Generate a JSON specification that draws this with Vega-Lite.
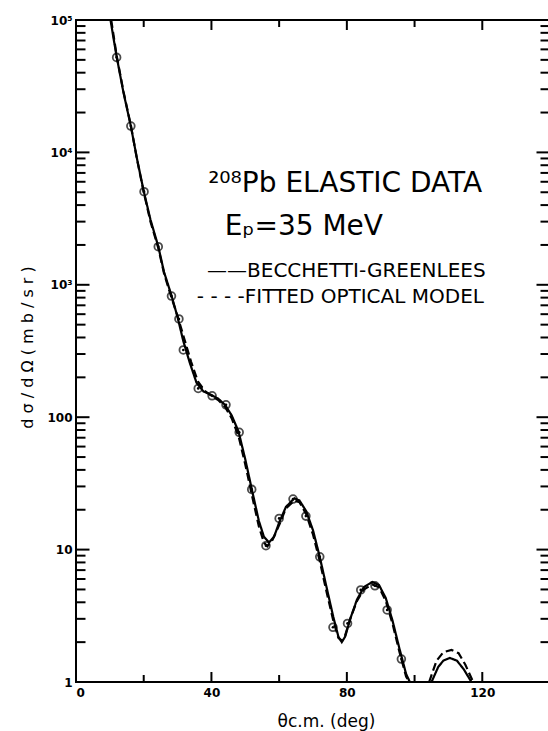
{
  "$schema": "https://vega.github.io/schema/vega-lite/v6.json",
  "autosize": "none",
  "padding": {"left": 76, "top": 20, "right": 0, "bottom": 49},
  "width": 474,
  "height": 662,
  "background": "white",
  "datasets": {
    "curves": [
      {"model": "BECCHETTI-GREENLEES", "seg": 1, "theta": 10.2, "xs": 100000},
      {"model": "BECCHETTI-GREENLEES", "seg": 1, "theta": 11, "xs": 75000},
      {"model": "BECCHETTI-GREENLEES", "seg": 1, "theta": 12, "xs": 53000},
      {"model": "BECCHETTI-GREENLEES", "seg": 1, "theta": 14, "xs": 28500},
      {"model": "BECCHETTI-GREENLEES", "seg": 1, "theta": 16.2, "xs": 15800},
      {"model": "BECCHETTI-GREENLEES", "seg": 1, "theta": 18, "xs": 9000},
      {"model": "BECCHETTI-GREENLEES", "seg": 1, "theta": 20, "xs": 5100},
      {"model": "BECCHETTI-GREENLEES", "seg": 1, "theta": 22, "xs": 3100},
      {"model": "BECCHETTI-GREENLEES", "seg": 1, "theta": 24.3, "xs": 1950},
      {"model": "BECCHETTI-GREENLEES", "seg": 1, "theta": 26, "xs": 1250},
      {"model": "BECCHETTI-GREENLEES", "seg": 1, "theta": 28.2, "xs": 830},
      {"model": "BECCHETTI-GREENLEES", "seg": 1, "theta": 30, "xs": 570},
      {"model": "BECCHETTI-GREENLEES", "seg": 1, "theta": 31.7, "xs": 375},
      {"model": "BECCHETTI-GREENLEES", "seg": 1, "theta": 33.6, "xs": 258},
      {"model": "BECCHETTI-GREENLEES", "seg": 1, "theta": 35.6, "xs": 182},
      {"model": "BECCHETTI-GREENLEES", "seg": 1, "theta": 37.6, "xs": 157},
      {"model": "BECCHETTI-GREENLEES", "seg": 1, "theta": 40, "xs": 147},
      {"model": "BECCHETTI-GREENLEES", "seg": 1, "theta": 42, "xs": 138},
      {"model": "BECCHETTI-GREENLEES", "seg": 1, "theta": 44, "xs": 124},
      {"model": "BECCHETTI-GREENLEES", "seg": 1, "theta": 46, "xs": 103},
      {"model": "BECCHETTI-GREENLEES", "seg": 1, "theta": 48, "xs": 78},
      {"model": "BECCHETTI-GREENLEES", "seg": 1, "theta": 50, "xs": 48},
      {"model": "BECCHETTI-GREENLEES", "seg": 1, "theta": 52, "xs": 28},
      {"model": "BECCHETTI-GREENLEES", "seg": 1, "theta": 54, "xs": 16.5},
      {"model": "BECCHETTI-GREENLEES", "seg": 1, "theta": 55.5, "xs": 12.5},
      {"model": "BECCHETTI-GREENLEES", "seg": 1, "theta": 57, "xs": 11.3},
      {"model": "BECCHETTI-GREENLEES", "seg": 1, "theta": 58.5, "xs": 12.5},
      {"model": "BECCHETTI-GREENLEES", "seg": 1, "theta": 60, "xs": 16},
      {"model": "BECCHETTI-GREENLEES", "seg": 1, "theta": 62, "xs": 21},
      {"model": "BECCHETTI-GREENLEES", "seg": 1, "theta": 64.5, "xs": 24.4},
      {"model": "BECCHETTI-GREENLEES", "seg": 1, "theta": 66, "xs": 23.5},
      {"model": "BECCHETTI-GREENLEES", "seg": 1, "theta": 68, "xs": 19.5},
      {"model": "BECCHETTI-GREENLEES", "seg": 1, "theta": 70, "xs": 14},
      {"model": "BECCHETTI-GREENLEES", "seg": 1, "theta": 72, "xs": 8.8},
      {"model": "BECCHETTI-GREENLEES", "seg": 1, "theta": 74, "xs": 5.2},
      {"model": "BECCHETTI-GREENLEES", "seg": 1, "theta": 76, "xs": 3.1},
      {"model": "BECCHETTI-GREENLEES", "seg": 1, "theta": 77.5, "xs": 2.2},
      {"model": "BECCHETTI-GREENLEES", "seg": 1, "theta": 78.5, "xs": 2.0},
      {"model": "BECCHETTI-GREENLEES", "seg": 1, "theta": 79.5, "xs": 2.2},
      {"model": "BECCHETTI-GREENLEES", "seg": 1, "theta": 81, "xs": 3.0},
      {"model": "BECCHETTI-GREENLEES", "seg": 1, "theta": 83, "xs": 4.2},
      {"model": "BECCHETTI-GREENLEES", "seg": 1, "theta": 85, "xs": 5.2},
      {"model": "BECCHETTI-GREENLEES", "seg": 1, "theta": 87.5, "xs": 5.7},
      {"model": "BECCHETTI-GREENLEES", "seg": 1, "theta": 89.5, "xs": 5.4},
      {"model": "BECCHETTI-GREENLEES", "seg": 1, "theta": 91.5, "xs": 4.3},
      {"model": "BECCHETTI-GREENLEES", "seg": 1, "theta": 93.5, "xs": 2.9},
      {"model": "BECCHETTI-GREENLEES", "seg": 1, "theta": 95.5, "xs": 1.8},
      {"model": "BECCHETTI-GREENLEES", "seg": 1, "theta": 97.5, "xs": 1.15},
      {"model": "BECCHETTI-GREENLEES", "seg": 1, "theta": 98.6, "xs": 1.0},
      {"model": "BECCHETTI-GREENLEES", "seg": 2, "theta": 105, "xs": 1.0},
      {"model": "BECCHETTI-GREENLEES", "seg": 2, "theta": 107, "xs": 1.3},
      {"model": "BECCHETTI-GREENLEES", "seg": 2, "theta": 108.5, "xs": 1.45},
      {"model": "BECCHETTI-GREENLEES", "seg": 2, "theta": 110.4, "xs": 1.52},
      {"model": "BECCHETTI-GREENLEES", "seg": 2, "theta": 112.5, "xs": 1.45},
      {"model": "BECCHETTI-GREENLEES", "seg": 2, "theta": 114.5, "xs": 1.25},
      {"model": "BECCHETTI-GREENLEES", "seg": 2, "theta": 116.8, "xs": 1.0},
      {"model": "FITTED OPTICAL MODEL", "seg": 1, "theta": 10.4, "xs": 100000},
      {"model": "FITTED OPTICAL MODEL", "seg": 1, "theta": 12, "xs": 54000},
      {"model": "FITTED OPTICAL MODEL", "seg": 1, "theta": 14, "xs": 29000},
      {"model": "FITTED OPTICAL MODEL", "seg": 1, "theta": 16.2, "xs": 16000},
      {"model": "FITTED OPTICAL MODEL", "seg": 1, "theta": 18, "xs": 8900},
      {"model": "FITTED OPTICAL MODEL", "seg": 1, "theta": 20, "xs": 5000},
      {"model": "FITTED OPTICAL MODEL", "seg": 1, "theta": 22, "xs": 3000},
      {"model": "FITTED OPTICAL MODEL", "seg": 1, "theta": 24.3, "xs": 1900},
      {"model": "FITTED OPTICAL MODEL", "seg": 1, "theta": 26, "xs": 1220},
      {"model": "FITTED OPTICAL MODEL", "seg": 1, "theta": 28.2, "xs": 800},
      {"model": "FITTED OPTICAL MODEL", "seg": 1, "theta": 30, "xs": 580},
      {"model": "FITTED OPTICAL MODEL", "seg": 1, "theta": 32, "xs": 390},
      {"model": "FITTED OPTICAL MODEL", "seg": 1, "theta": 34, "xs": 262},
      {"model": "FITTED OPTICAL MODEL", "seg": 1, "theta": 36, "xs": 186},
      {"model": "FITTED OPTICAL MODEL", "seg": 1, "theta": 38, "xs": 158},
      {"model": "FITTED OPTICAL MODEL", "seg": 1, "theta": 40, "xs": 145},
      {"model": "FITTED OPTICAL MODEL", "seg": 1, "theta": 42, "xs": 135},
      {"model": "FITTED OPTICAL MODEL", "seg": 1, "theta": 44, "xs": 120},
      {"model": "FITTED OPTICAL MODEL", "seg": 1, "theta": 46, "xs": 98},
      {"model": "FITTED OPTICAL MODEL", "seg": 1, "theta": 48, "xs": 72},
      {"model": "FITTED OPTICAL MODEL", "seg": 1, "theta": 50, "xs": 44},
      {"model": "FITTED OPTICAL MODEL", "seg": 1, "theta": 52, "xs": 25.5},
      {"model": "FITTED OPTICAL MODEL", "seg": 1, "theta": 54, "xs": 15},
      {"model": "FITTED OPTICAL MODEL", "seg": 1, "theta": 55.5, "xs": 11.3},
      {"model": "FITTED OPTICAL MODEL", "seg": 1, "theta": 56.5, "xs": 10.6},
      {"model": "FITTED OPTICAL MODEL", "seg": 1, "theta": 58, "xs": 11.8},
      {"model": "FITTED OPTICAL MODEL", "seg": 1, "theta": 60, "xs": 15.3},
      {"model": "FITTED OPTICAL MODEL", "seg": 1, "theta": 62, "xs": 20.5},
      {"model": "FITTED OPTICAL MODEL", "seg": 1, "theta": 64.5, "xs": 23.5},
      {"model": "FITTED OPTICAL MODEL", "seg": 1, "theta": 66, "xs": 22.8},
      {"model": "FITTED OPTICAL MODEL", "seg": 1, "theta": 68, "xs": 18.5},
      {"model": "FITTED OPTICAL MODEL", "seg": 1, "theta": 70, "xs": 13},
      {"model": "FITTED OPTICAL MODEL", "seg": 1, "theta": 72, "xs": 8.2},
      {"model": "FITTED OPTICAL MODEL", "seg": 1, "theta": 74, "xs": 4.8},
      {"model": "FITTED OPTICAL MODEL", "seg": 1, "theta": 76, "xs": 2.9},
      {"model": "FITTED OPTICAL MODEL", "seg": 1, "theta": 77.5, "xs": 2.15},
      {"model": "FITTED OPTICAL MODEL", "seg": 1, "theta": 78.5, "xs": 2.05},
      {"model": "FITTED OPTICAL MODEL", "seg": 1, "theta": 79.5, "xs": 2.25},
      {"model": "FITTED OPTICAL MODEL", "seg": 1, "theta": 81, "xs": 3.0},
      {"model": "FITTED OPTICAL MODEL", "seg": 1, "theta": 83, "xs": 4.1},
      {"model": "FITTED OPTICAL MODEL", "seg": 1, "theta": 85, "xs": 5.0},
      {"model": "FITTED OPTICAL MODEL", "seg": 1, "theta": 87.5, "xs": 5.45},
      {"model": "FITTED OPTICAL MODEL", "seg": 1, "theta": 89.5, "xs": 5.2},
      {"model": "FITTED OPTICAL MODEL", "seg": 1, "theta": 91.5, "xs": 4.1},
      {"model": "FITTED OPTICAL MODEL", "seg": 1, "theta": 93.5, "xs": 2.75},
      {"model": "FITTED OPTICAL MODEL", "seg": 1, "theta": 95.5, "xs": 1.7},
      {"model": "FITTED OPTICAL MODEL", "seg": 1, "theta": 97.5, "xs": 1.1},
      {"model": "FITTED OPTICAL MODEL", "seg": 1, "theta": 98.4, "xs": 1.0},
      {"model": "FITTED OPTICAL MODEL", "seg": 2, "theta": 104.3, "xs": 1.0},
      {"model": "FITTED OPTICAL MODEL", "seg": 2, "theta": 106.5, "xs": 1.45},
      {"model": "FITTED OPTICAL MODEL", "seg": 2, "theta": 108.5, "xs": 1.68},
      {"model": "FITTED OPTICAL MODEL", "seg": 2, "theta": 110.9, "xs": 1.75},
      {"model": "FITTED OPTICAL MODEL", "seg": 2, "theta": 113, "xs": 1.65},
      {"model": "FITTED OPTICAL MODEL", "seg": 2, "theta": 115, "xs": 1.35},
      {"model": "FITTED OPTICAL MODEL", "seg": 2, "theta": 117.3, "xs": 1.0}
    ],
    "points": [
      {"theta": 12.0, "xs": 52200},
      {"theta": 16.2, "xs": 15800},
      {"theta": 20.1, "xs": 5050},
      {"theta": 24.3, "xs": 1940},
      {"theta": 28.2, "xs": 823},
      {"theta": 30.4, "xs": 552},
      {"theta": 31.7, "xs": 322},
      {"theta": 36.1, "xs": 165},
      {"theta": 40.2, "xs": 145},
      {"theta": 44.3, "xs": 124},
      {"theta": 48.2, "xs": 76.9},
      {"theta": 51.9, "xs": 28.5},
      {"theta": 56.1, "xs": 10.7},
      {"theta": 60.0, "xs": 17.2},
      {"theta": 64.1, "xs": 24.1},
      {"theta": 67.9, "xs": 17.9},
      {"theta": 72.0, "xs": 8.83},
      {"theta": 75.9, "xs": 2.59},
      {"theta": 80.2, "xs": 2.77},
      {"theta": 84.1, "xs": 4.96},
      {"theta": 88.3, "xs": 5.33},
      {"theta": 91.9, "xs": 3.5},
      {"theta": 96.1, "xs": 1.49}
    ],
    "notes": [
      {"note": "²⁰⁸Pb  ELASTIC  DATA", "theta": 79.5, "xs": 5020},
      {"note": "Eₚ=35 MeV", "theta": 67.3, "xs": 2378}
    ],
    "keyrows": [
      {"note": "——BECCHETTI-GREENLEES", "theta": 38.7, "xs": 1146},
      {"note": "- - - -FITTED OPTICAL MODEL", "theta": 35.7, "xs": 729}
    ],
    "ymajor": [{"v": 1}, {"v": 10}, {"v": 100}, {"v": 1000}, {"v": 10000}, {"v": 100000}],
    "yminor": [
      {"v": 2}, {"v": 3}, {"v": 4}, {"v": 5}, {"v": 6}, {"v": 7}, {"v": 8}, {"v": 9},
      {"v": 20}, {"v": 30}, {"v": 40}, {"v": 50}, {"v": 60}, {"v": 70}, {"v": 80}, {"v": 90},
      {"v": 200}, {"v": 300}, {"v": 400}, {"v": 500}, {"v": 600}, {"v": 700}, {"v": 800}, {"v": 900},
      {"v": 2000}, {"v": 3000}, {"v": 4000}, {"v": 5000}, {"v": 6000}, {"v": 7000}, {"v": 8000}, {"v": 9000},
      {"v": 20000}, {"v": 30000}, {"v": 40000}, {"v": 50000}, {"v": 60000}, {"v": 70000}, {"v": 80000}, {"v": 90000}
    ],
    "xmajor": [{"v": 0}, {"v": 40}, {"v": 80}, {"v": 120}],
    "xminor": [{"v": 20}, {"v": 60}, {"v": 100}]
  },
  "layer": [
    {
      "data": {"name": "curves"},
      "transform": [{"filter": "datum.model == 'BECCHETTI-GREENLEES'"}],
      "mark": {"type": "line", "color": "black", "strokeWidth": 2.2},
      "encoding": {
        "x": {"field": "theta", "type": "quantitative",
              "scale": {"domain": [0, 140], "nice": false, "zero": false},
              "axis": {"values": [0, 40, 80, 120], "ticks": false, "labelPadding": 5,
                       "title": "θc.m. (deg)", "titleFontSize": 17, "titleX": 250, "titleY": 44,
                       "titleAnchor": null, "titleAlign": "center", "titleBaseline": "alphabetic"}},
        "y": {"field": "xs", "type": "quantitative",
              "scale": {"type": "log", "domain": [1, 100000], "nice": false},
              "axis": {"values": [1, 10, 100, 1000, 10000, 100000], "ticks": false, "labelPadding": 4,
                       "labelExpr": "datum.value >= 99999 ? '10⁵' : datum.value >= 9999 ? '10⁴' : datum.value >= 999 ? '10³' : datum.value >= 99 ? '100' : datum.value >= 9 ? '10' : '1'",
                       "title": "d σ / d Ω    ( m b / s r )", "titleFontSize": 16, "titleX": -49, "titleY": 327,
                       "titleAngle": -90, "titleAlign": "center", "titleBaseline": "middle"}},
        "detail": {"field": "seg", "type": "nominal"},
        "strokeDash": {"field": "model", "type": "nominal",
                       "scale": {"domain": ["BECCHETTI-GREENLEES", "FITTED OPTICAL MODEL"], "range": [[1, 0], [8, 4]]},
                       "legend": null}
      }
    },
    {
      "data": {"name": "curves"},
      "transform": [{"filter": "datum.model == 'FITTED OPTICAL MODEL'"}],
      "mark": {"type": "line", "color": "black", "strokeWidth": 2.2},
      "encoding": {
        "x": {"field": "theta", "type": "quantitative"},
        "y": {"field": "xs", "type": "quantitative"},
        "detail": {"field": "seg", "type": "nominal"},
        "strokeDash": {"field": "model", "type": "nominal", "legend": null}
      }
    },
    {
      "data": {"name": "points"},
      "mark": {"type": "point", "shape": "circle", "filled": false, "stroke": "black", "strokeWidth": 1.8, "size": 60},
      "encoding": {
        "x": {"field": "theta", "type": "quantitative"},
        "y": {"field": "xs", "type": "quantitative"}
      }
    },
    {
      "data": {"name": "points"},
      "mark": {"type": "circle", "color": "black", "size": 7, "opacity": 1},
      "encoding": {
        "x": {"field": "theta", "type": "quantitative"},
        "y": {"field": "xs", "type": "quantitative"}
      }
    },
    {
      "data": {"name": "notes"},
      "mark": {"type": "text", "font": "DejaVu Sans", "fontSize": 28, "color": "black", "align": "center", "baseline": "alphabetic"},
      "encoding": {
        "x": {"field": "theta", "type": "quantitative"},
        "y": {"field": "xs", "type": "quantitative"},
        "text": {"field": "note", "type": "nominal"}
      }
    },
    {
      "data": {"name": "keyrows"},
      "mark": {"type": "text", "font": "DejaVu Sans", "fontSize": 20, "color": "black", "align": "left", "baseline": "alphabetic"},
      "encoding": {
        "x": {"field": "theta", "type": "quantitative"},
        "y": {"field": "xs", "type": "quantitative"},
        "text": {"field": "note", "type": "nominal"}
      }
    },
    {
      "data": {"name": "ymajor"},
      "mark": {"type": "tick", "orient": "horizontal", "color": "#000000", "opacity": 1, "thickness": 2, "xOffset": 7},
      "encoding": {"y": {"field": "v", "type": "quantitative"}, "x": {"datum": 0, "type": "quantitative"}, "size": {"value": 13}}
    },
    {
      "data": {"name": "yminor"},
      "mark": {"type": "tick", "orient": "horizontal", "color": "#000000", "opacity": 1, "thickness": 2, "xOffset": 5},
      "encoding": {"y": {"field": "v", "type": "quantitative"}, "x": {"datum": 0, "type": "quantitative"}, "size": {"value": 9}}
    },
    {
      "data": {"name": "ymajor"},
      "mark": {"type": "tick", "orient": "horizontal", "color": "#000000", "opacity": 1, "thickness": 2, "xOffset": -7},
      "encoding": {"y": {"field": "v", "type": "quantitative"}, "x": {"datum": 140, "type": "quantitative"}, "size": {"value": 13}}
    },
    {
      "data": {"name": "yminor"},
      "mark": {"type": "tick", "orient": "horizontal", "color": "#000000", "opacity": 1, "thickness": 2, "xOffset": -5},
      "encoding": {"y": {"field": "v", "type": "quantitative"}, "x": {"datum": 140, "type": "quantitative"}, "size": {"value": 9}}
    },
    {
      "data": {"name": "xmajor"},
      "mark": {"type": "tick", "orient": "vertical", "color": "#000000", "opacity": 1, "thickness": 2, "yOffset": -5},
      "encoding": {"x": {"field": "v", "type": "quantitative"}, "y": {"datum": 1, "type": "quantitative"}, "size": {"value": 10}}
    },
    {
      "data": {"name": "xminor"},
      "mark": {"type": "tick", "orient": "vertical", "color": "#000000", "opacity": 1, "thickness": 2, "yOffset": -3.5},
      "encoding": {"x": {"field": "v", "type": "quantitative"}, "y": {"datum": 1, "type": "quantitative"}, "size": {"value": 7}}
    },
    {
      "data": {"name": "xmajor"},
      "mark": {"type": "tick", "orient": "vertical", "color": "#000000", "opacity": 1, "thickness": 2, "yOffset": 5},
      "encoding": {"x": {"field": "v", "type": "quantitative"}, "y": {"datum": 100000, "type": "quantitative"}, "size": {"value": 10}}
    },
    {
      "data": {"name": "xminor"},
      "mark": {"type": "tick", "orient": "vertical", "color": "#000000", "opacity": 1, "thickness": 2, "yOffset": 3.5},
      "encoding": {"x": {"field": "v", "type": "quantitative"}, "y": {"datum": 100000, "type": "quantitative"}, "size": {"value": 7}}
    }
  ],
  "config": {
    "view": {"stroke": "black", "strokeWidth": 2},
    "axis": {"grid": false, "domain": false,
             "labelColor": "black", "labelFont": "DejaVu Sans", "labelFontWeight": "bold", "labelFontSize": 12,
             "titleColor": "black", "titleFont": "DejaVu Sans", "titleFontWeight": "normal"}
  }
}
